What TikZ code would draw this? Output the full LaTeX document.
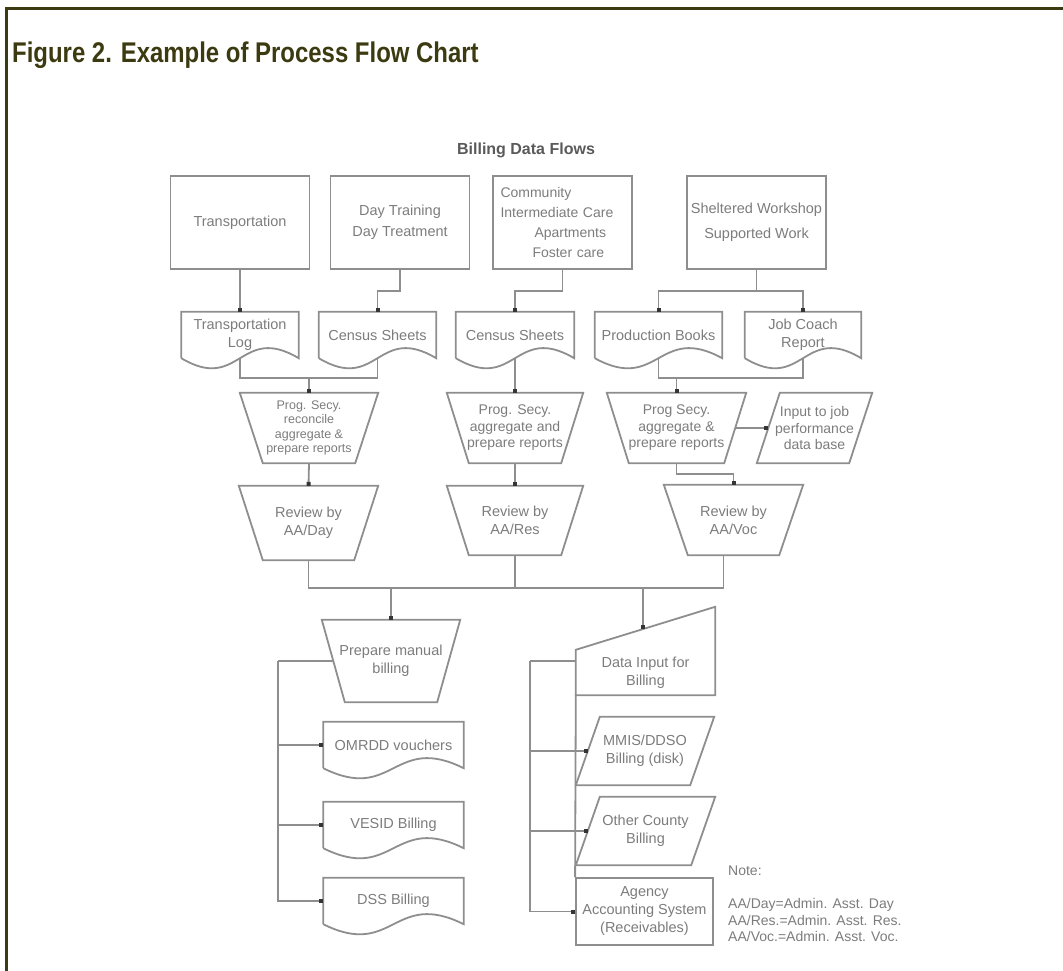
\documentclass[tikz,border=0pt]{standalone}
\usepackage{fontspec}
\setmainfont{Liberation Sans}
\usetikzlibrary{arrows.meta,calc}

\definecolor{frameclr}{HTML}{3C3A10}
\definecolor{wireclr}{HTML}{8E8E8E}
\definecolor{labelclr}{HTML}{7C7C7C}
\definecolor{tipclr}{HTML}{353535}
\definecolor{headclr}{HTML}{5A5A5A}

\tikzset{
  wire/.style={draw=wireclr, line width=1.8pt},
  flow/.style={wire, -{Square[length=4pt,width=4pt,color=tipclr]}},
  lbl/.style={text=labelclr, align=center, inner sep=0pt, font=\fontsize{14.5}{19}\selectfont},
  procbox/.style={lbl, draw=wireclr, line width=1.8pt, minimum width=139pt, minimum height=93pt, font=\fontsize{14.5}{20.5}\selectfont},
  docbox/.style={lbl, minimum height=46pt, font=\fontsize{14.5}{18}\selectfont},
  shapebox/.style={lbl, font=\fontsize{14.5}{18}\selectfont},
  small/.style={font=\fontsize{14}{16.5}\selectfont},
}

% document: flat top, wavy bottom
\newcommand\docline[1]{%
  \draw[wire] (#1.south west) -- (#1.north west) -- (#1.north east) -- (#1.south east)
    .. controls ($(#1.south)+(0,-35)$) and ($(#1.south)+(0,35)$) .. (#1.south west);}
% manual operation: wide top, narrow bottom
\newcommand\manopline[2]{%
  \draw[wire] (#1.north west) -- (#1.north east) -- ($(#1.south east)+(-#2,0)$)
    -- ($(#1.south west)+(#2,0)$) -- cycle;
  \coordinate (#1-l) at ($(#1.west)+(0.5*#2,0)$);
  \coordinate (#1-r) at ($(#1.east)+(-0.5*#2,0)$);}
% data: slanted sides
\newcommand\ioline[2]{%
  \draw[wire] ($(#1.north west)+(#2,0)$) -- (#1.north east) -- ($(#1.south east)+(-#2,0)$)
    -- (#1.south west) -- cycle;
  \coordinate (#1-l) at ($(#1.west)+(0.5*#2,0)$);
  \coordinate (#1-r) at ($(#1.east)+(-0.5*#2,0)$);}

\begin{document}
\begin{tikzpicture}[x=1pt, y=-1pt]
\useasboundingbox (0,0) rectangle (1063,971);
\draw[frameclr, line width=2.6pt] (6.3,971) -- (6.3,8.8) -- (1063,8.8);
\node[anchor=base west, inner sep=0pt, text=frameclr, font=\fontsize{28.5}{30}\selectfont\bfseries] (title) at (12,63)
  {\scalebox{0.84}[1]{Figure 2. Example of Process Flow Chart}};
\node[anchor=base, inner sep=0pt, text=headclr, font=\fontsize{16}{18}\selectfont\bfseries] (heading) at (526,155) {Billing Data Flows};

% programs
\node[procbox] (transp) at (240,222.5) {Transportation};
\node[procbox] (daytr) at (400,222.5) {Day Training\\Day Treatment};
\node[procbox, align=left, text width=124pt, font=\fontsize{14}{20}\selectfont] (commun) at (562.5,222.5)
  {Community\\Intermediate Care\\\hspace*{34pt}Apartments\\\hspace*{32pt}Foster care};
\node[procbox] (shelt) at (756.5,222.5) {Sheltered Workshop\\[5pt]Supported Work};

% source documents
\node[docbox, minimum width=117pt] (tlog) at (240,335) {Transportation\\Log};
\node[docbox, minimum width=117pt] (census1) at (377.5,335) {Census Sheets};
\node[docbox, minimum width=118pt] (census2) at (515,335) {Census Sheets};
\node[docbox, minimum width=127pt] (prodbk) at (658.5,335) {Production Books};
\node[docbox, minimum width=116pt] (jobcoach) at (803,335) {Job Coach\\Report};

% processing
\node[shapebox, font=\fontsize{12.5}{14.5}\selectfont, minimum width=138pt, minimum height=70pt] (prog1) at (309,428)
  {Prog. Secy.\\reconcile\\aggregate \&\\prepare reports};
\node[shapebox, small, minimum width=136pt, minimum height=70pt] (prog2) at (515,428)
  {Prog. Secy.\\aggregate and\\prepare reports};
\node[shapebox, small, minimum width=139pt, minimum height=70pt] (prog3) at (676.5,428)
  {Prog Secy.\\aggregate \&\\prepare reports};
\node[shapebox, small, minimum width=115pt, minimum height=70pt] (jobdb) at (814.5,428)
  {Input to job\\performance\\data base};
\node[shapebox, minimum width=139pt, minimum height=74pt] (revday) at (308.5,523) {Review by\\AA/Day};
\node[shapebox, minimum width=136pt, minimum height=69pt] (revres) at (515,520.5) {Review by\\AA/Res};
\node[shapebox, minimum width=139pt, minimum height=70pt] (revvoc) at (733.5,520) {Review by\\AA/Voc};
\node[shapebox, minimum width=138pt, minimum height=82pt] (manbill) at (391,661) {Prepare manual\\billing};

% billing
\node[docbox, minimum width=140pt] (omrdd) at (393.5,745) {OMRDD vouchers};
\node[docbox, minimum width=140pt] (vesid) at (393.5,825) {VESID Billing};
\node[docbox, minimum width=140pt] (dssbill) at (393.5,901) {DSS Billing};
\node[shapebox, minimum width=139pt, minimum height=45pt] (datain) at (645.5,672.5) {Data Input for\\Billing};
\node[shapebox, minimum width=138pt, minimum height=68pt] (mmis) at (645,751) {MMIS/DDSO\\Billing (disk)};
\node[shapebox, minimum width=139pt, minimum height=68pt] (othcty) at (645.5,831) {Other County\\Billing};
\node[procbox, minimum width=137pt, minimum height=67pt, font=\fontsize{14.5}{18}\selectfont] (agency) at (644.5,911.5)
  {Agency\\Accounting System\\(Receivables)};

\node[lbl, anchor=north west, align=left, font=\fontsize{14}{16.5}\selectfont] (note) at (728,866)
  {Note:\\[16.5pt]AA/Day=Admin. Asst. Day\\AA/Res.=Admin. Asst. Res.\\AA/Voc.=Admin. Asst. Voc.};

% outlines
\foreach \n in {tlog,census1,census2,prodbk,jobcoach,omrdd,vesid,dssbill} {\docline{\n}}
\foreach \n/\i in {prog1/23,prog2/22,prog3/22,revday/24,revres/22,revvoc/24,manbill/23} {\manopline{\n}{\i}}
\foreach \n/\i in {jobdb/23,mmis/24,othcty/24} {\ioline{\n}{\i}}
\draw[wire] (datain.south west) -- (datain.north west) -- ($(datain.north east)+(0,-43)$)
  -- (datain.south east) -- cycle;

% flows
\draw[flow] (transp) -- (tlog);
\draw[flow] (daytr.south) -- ++(0,21) -| (census1.north);
\draw[flow] (commun.south) -- ++(0,21) -| (census2.north);
\draw[wire] (shelt.south) -- ++(0,21) coordinate (sj);
\draw[flow] (sj) -| (prodbk.north);
\draw[flow] (sj) -| (jobcoach.north);

\coordinate (j1) at ($(prog1.north)+(0,-15)$);
\draw[wire] (tlog.south) |- (j1) -| (census1.south);
\draw[flow] (j1) -- (prog1.north);
\draw[flow] (census2.south) -- (prog2.north);
\coordinate (j3) at ($(prog3.north)+(0,-15)$);
\draw[wire] (prodbk.south) |- (j3) -| (jobcoach.south);
\draw[flow] (j3) -- (prog3.north);
\draw[flow] (prog3-r) -- (jobdb-l);
\draw[flow] (prog1.south) -- (revday.north);
\draw[flow] (prog2.south) -- (revres.north);
\draw[flow] (prog3.south) -- ++(0,11) -| (revvoc.north);

\coordinate (bus) at ($(revres.south)+(0,33)$);
\coordinate (vocout) at ($(revvoc.south)+(-10,0)$);
\coordinate (dtop) at ($(datain.north west)!0.48!(datain.north east)+(0,-21)$);
\draw[wire] (revday.south) |- (bus) -| (vocout);
\draw[wire] (revres.south) -- (bus);
\draw[flow] (bus -| manbill.north) -- (manbill.north);
\draw[flow] (bus -| dtop) -- (dtop);

\coordinate (lbus) at ($(manbill.center)+(-113,0)$);
\draw[wire] (manbill-l) -- (lbus);
\draw[flow] (lbus) |- (dssbill.west);
\draw[flow] (lbus |- omrdd.west) -- (omrdd.west);
\draw[flow] (lbus |- vesid.west) -- (vesid.west);

\coordinate (rbus) at ($(datain.north west)+(-46,11)$);
\draw[wire] (datain.west |- rbus) -- (rbus);
\draw[flow] (rbus) |- (agency.west);
\draw[flow] (rbus |- mmis-l) -- (mmis-l);
\draw[flow] (rbus |- othcty-l) -- (othcty-l);
\draw[wire] (datain.south west) -- (agency.north west);
\end{tikzpicture}
\end{document}
